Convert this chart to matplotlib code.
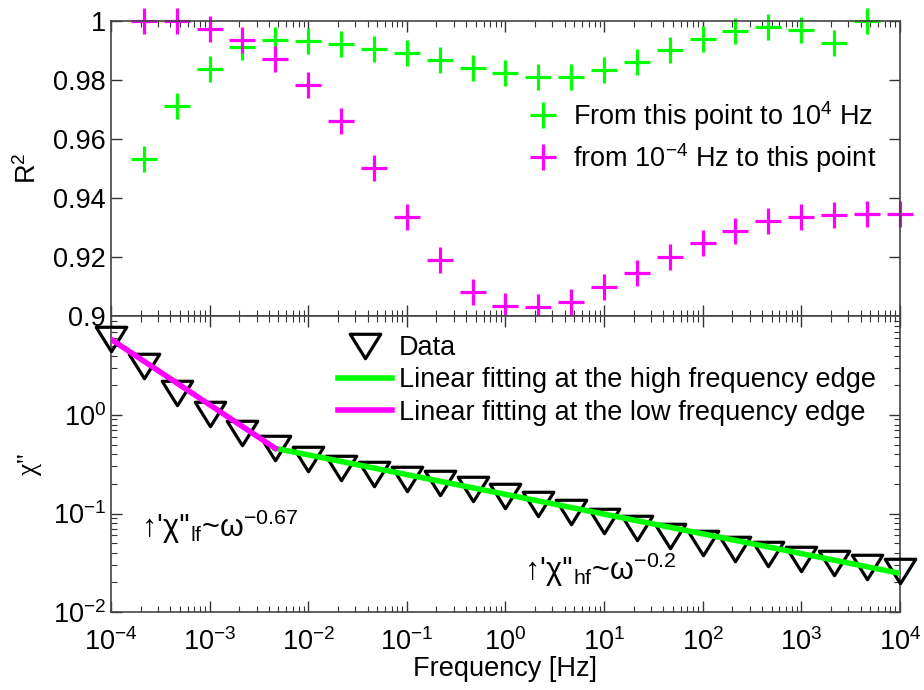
import matplotlib
matplotlib.use("Agg")
import matplotlib.pyplot as plt
from matplotlib.path import Path

plt.rcParams['font.family'] = ['Liberation Sans', 'DejaVu Sans']
plt.rcParams['mathtext.fontset'] = 'custom'
plt.rcParams['mathtext.rm'] = 'Liberation Sans'
plt.rcParams['mathtext.it'] = 'Liberation Sans:italic'
plt.rcParams['font.size'] = 19.5

# frequency points (Hz), 3 per decade
freq = [1.0e-4, 2.15e-4, 4.64e-4, 1.0e-3, 2.15e-3, 4.64e-3, 1.0e-2, 2.15e-2, 4.64e-2,
        1.0e-1, 2.15e-1, 4.64e-1, 1.0, 2.15, 4.64, 10.0, 21.5, 46.4,
        100.0, 215.0, 464.0, 1000.0, 2150.0, 4640.0, 10000.0]

# R^2 from this point to 1e4 Hz (points 1..23)
r2_high = [0.9533, 0.9712, 0.9836, 0.9912, 0.9935, 0.9931, 0.992, 0.9905, 0.989,
           0.9866, 0.9839, 0.9824, 0.981, 0.981, 0.9833, 0.9861, 0.990, 0.9937,
           0.9966, 0.998, 0.9968, 0.9926, 1.0]
# R^2 from 1e-4 Hz to this point (points 1..24)
r2_low = [1.0, 1.0, 0.9972, 0.9935, 0.987, 0.9782, 0.966, 0.950, 0.9334, 0.919,
          0.908, 0.9034, 0.903, 0.9049, 0.9097, 0.9147, 0.920, 0.9248, 0.9289,
          0.9323, 0.9336, 0.9342, 0.9344, 0.9344]

chi2 = [5.96, 3.14, 1.69, 1.02, 0.662, 0.459, 0.355, 0.288, 0.254, 0.222, 0.206,
        0.179, 0.151, 0.125, 0.104, 0.0846, 0.0708, 0.0591, 0.0506, 0.0440,
        0.0388, 0.0343, 0.0312, 0.0284, 0.0259]

# fitted lines (end points)
fit_hf_x = [4.64e-3, 1.0e4]
fit_hf_y = [0.459, 0.0247]
fit_lf_x = [1.0e-4, 4.64e-3]
fit_lf_y = [5.87, 0.459]

green = '#00ff00'
magenta = '#ff00ff'

# wide downward triangle like the original marker
tri = Path([(-1, 0.8), (1, 0.8), (0, -0.8), (0, 0)], closed=True)

fig = plt.figure(figsize=(9.24, 6.9), dpi=100)
ax1 = fig.add_axes([0.120, 0.542, 0.854, 0.428])
ax2 = fig.add_axes([0.120, 0.113, 0.854, 0.429], sharex=ax1)

ax1.plot(freq[1:24], r2_high, '+', color=green, ms=19, mew=2.3, clip_on=False,
         label='From this point to 10$^{4}$ Hz')
ax1.plot(freq[1:25], r2_low, '+', color=magenta, ms=19, mew=2.3, clip_on=False,
         label='from 10$^{-4}$ Hz to this point')
ax1.set_xscale('log')
ax1.set_xlim(1e-4, 1e4)
ax1.set_ylim(0.9, 1.0)
ax1.set_yticks([0.9, 0.92, 0.94, 0.96, 0.98, 1.0])
ax1.set_yticklabels(['0.9', '0.92', '0.94', '0.96', '0.98', '1'])
ax1.set_ylabel('R$^2$', labelpad=8)
ax1.tick_params(labelbottom=False)
ax1.legend(loc='upper left', bbox_to_anchor=(0.522, 0.735), frameon=False,
           handlelength=1.5, handletextpad=0.35, labelspacing=0.3,
           borderpad=0, borderaxespad=0)

ax2.plot(freq, chi2, linestyle='none', marker=tri, mfc='none', mec='black', ms=22,
         mew=2.3, clip_on=False, label='Data', zorder=3)
ax2.plot(fit_hf_x, fit_hf_y, '-', color=green, lw=4,
         label='Linear fitting at the high frequency edge', zorder=4)
ax2.plot(fit_lf_x, fit_lf_y, '-', color=magenta, lw=4,
         label='Linear fitting at the low frequency edge', zorder=4)
ax2.set_yscale('log')
ax2.set_ylim(1e-2, 10.1)
ax2.set_yticks([1e-2, 1e-1, 1e0])
ax2.set_xticks([1e-4, 1e-3, 1e-2, 1e-1, 1e0, 1e1, 1e2, 1e3, 1e4])
ax2.set_xlabel('Frequency [Hz]', labelpad=0)
ax2.set_ylabel("χ''", family=['Liberation Serif', 'DejaVu Serif'], labelpad=8)
ax2.legend(loc='upper left', bbox_to_anchor=(0.288, 0.935), frameon=False,
           handlelength=2.0, handletextpad=0.25, labelspacing=0.23,
           borderpad=0, borderaxespad=0)

ax2.text(2.0e-4, 0.058, "↑'χ''$_{\\mathrm{lf}}$~ω$^{-0.67}$", va='baseline', fontsize=22)
ax2.text(1.55, 0.0211, "↑'χ''$_{\\mathrm{hf}}$~ω$^{-0.2}$", va='baseline', fontsize=22)

for ax in (ax1, ax2):
    ax.tick_params(which='both', direction='in', top=True, right=True, colors='#333333',
                   labelcolor='black')
    ax.tick_params(which='major', length=8, width=1)
    ax.tick_params(which='minor', length=4, width=0.8)
    for s in ax.spines.values():
        s.set_color('#444444')
        s.set_linewidth(1.2)
ax2.tick_params(axis='x', which='major', pad=12)

fig.savefig('out.png', dpi=100)
